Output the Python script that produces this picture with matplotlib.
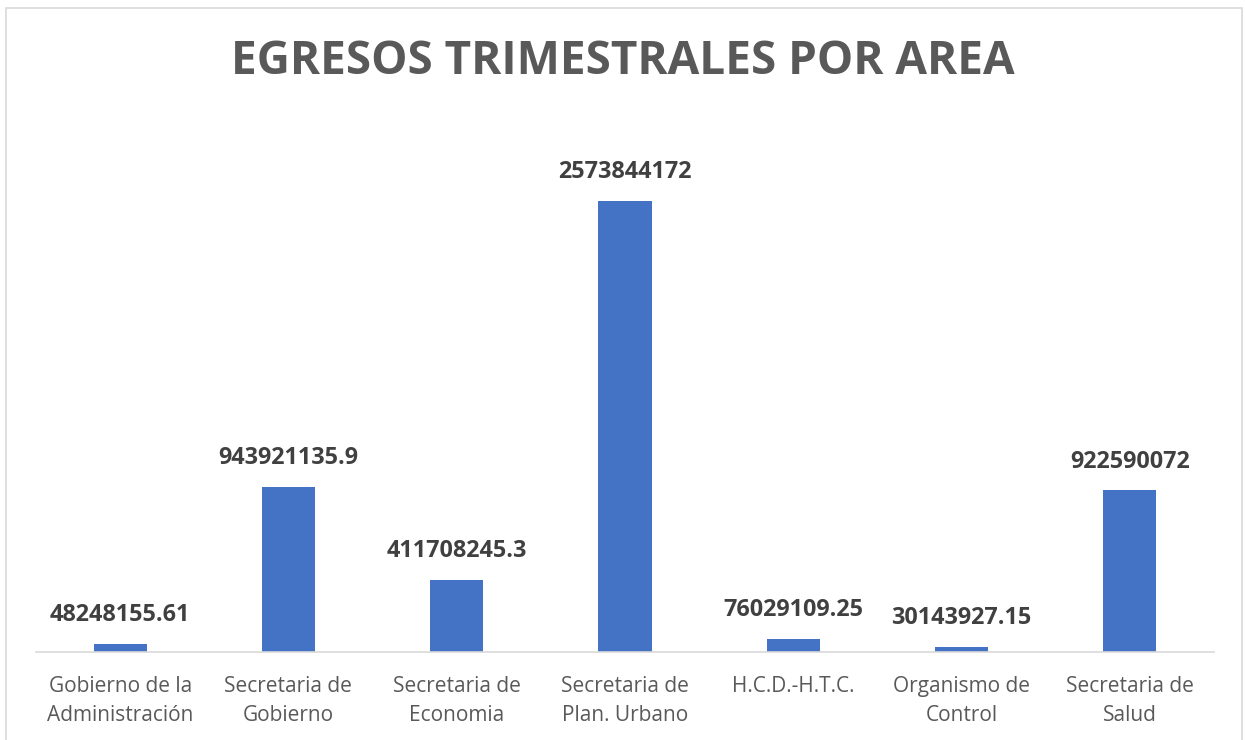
import matplotlib
matplotlib.use("Agg")
import matplotlib.pyplot as plt
from matplotlib.patches import Rectangle

categories = ["Gobierno de la\nAdministración", "Secretaria de\nGobierno", "Secretaria de\nEconomia",
              "Secretaria de\nPlan. Urbano", "H.C.D.-H.T.C.", "Organismo de\nControl", "Secretaria de\nSalud"]
values = [48248155.61, 943921135.9, 411708245.3, 2573844172, 76029109.25, 30143927.15, 922590072]
labels = ["48248155.61", "943921135.9", "411708245.3", "2573844172", "76029109.25", "30143927.15", "922590072"]
title = "EGRESOS TRIMESTRALES POR AREA"

W, H = 1245, 740
fig = plt.figure(figsize=(W / 100, H / 100), dpi=100)
plt.rcParams['font.family'] = ['Open Sans', 'DejaVu Sans']

# outer border
fig.patches.append(Rectangle((6 / W, -0.01), (1242 - 6) / W, 1 - 8 / H + 0.01, transform=fig.transFigure,
                             fill=False, edgecolor="#d9d9d9", linewidth=1.2))

left, right = 36 / W, 1214 / W
bottom = 1 - 652 / H
top = 1 - 126 / H
ax = fig.add_axes([left, bottom, right - left, top - bottom])
x = range(len(categories))
ax.bar(x, values, width=0.315, color="#4472c4")
ax.set_xlim(-0.5, len(categories) - 0.5)
ax.set_ylim(0, 2573844172 * 526 / 451)
for s in ["top", "right", "left"]:
    ax.spines[s].set_visible(False)
ax.spines["bottom"].set_color("#d9d9d9")
ax.spines["bottom"].set_linewidth(1.2)
ax.set_yticks([])
ax.set_xticks(list(x))
ax.set_xticklabels(categories, fontsize=15, color="#595959", linespacing=1.5)
ax.tick_params(axis="x", length=0, pad=17)
for xi, v, lab in zip(x, values, labels):
    ax.annotate(lab, (xi, v), xytext=(0, 12), textcoords="offset points", ha="center", va="bottom",
                fontsize=16.8, fontweight="bold", color="#404040")

fig.text(0.5, 1 - 62 / H, title, ha="center", va="center", fontsize=33, fontweight="bold", color="#595959")

fig.savefig("out.png", dpi=100)
